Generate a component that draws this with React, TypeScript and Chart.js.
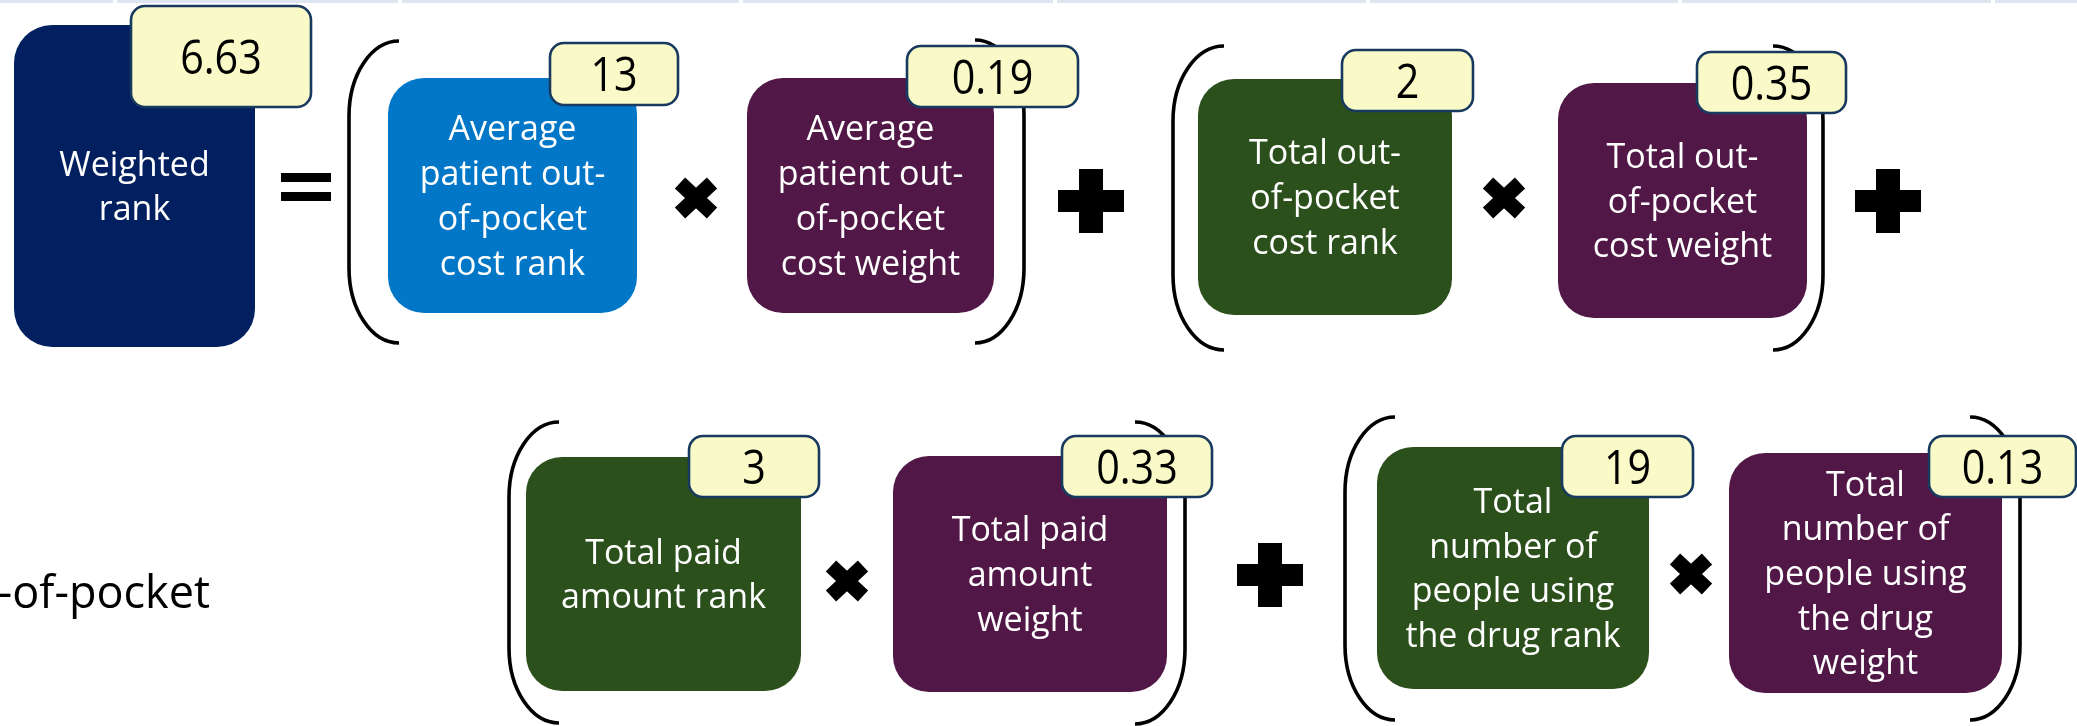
import React, { useEffect, useRef } from "react";
import { Chart, registerables } from "chart.js";

Chart.register(...registerables);

// ---------- DATA ----------
const resultLabel: string[] = ["Weighted", "rank"];
const weightedRank = 6.63;

const factorLabels: string[][] = [
  ["Average", "patient out-", "of-pocket", "cost rank"],
  ["Average", "patient out-", "of-pocket", "cost weight"],
  ["Total out-", "of-pocket", "cost rank"],
  ["Total out-", "of-pocket", "cost weight"],
  ["Total paid", "amount rank"],
  ["Total paid", "amount", "weight"],
  ["Total", "number of", "people using", "the drug rank"],
  ["Total", "number of", "people using", "the drug", "weight"],
];
const factorValues: number[] = [13, 0.19, 2, 0.35, 3, 0.33, 19, 0.13];
const factorKinds: string[] = ["avgRank", "weight", "rank", "weight", "rank", "weight", "rank", "weight"];
const operators: string[] = ["=", "x", "+", "x", "+", "x", "+", "x"];
const trailingText = "out-of-pocket";

// ---------- LAYOUT (diagram units = page px) ----------
const W = 2077;
const H = 726;
const RESULT_BOX = [14, 25, 255, 347];
const RESULT_BADGE = [131, 6, 311, 107];
const BOXES = [
  [388, 78, 637, 313],
  [747, 78, 994, 313],
  [1198, 79, 1452, 315],
  [1558, 83, 1807, 318],
  [526, 457, 801, 691],
  [893, 456, 1167, 692],
  [1377, 447, 1649, 689],
  [1729, 453, 2002, 693],
];
const BADGES = [
  [550, 43, 678, 105],
  [907, 46, 1078, 107],
  [1342, 50, 1473, 111],
  [1697, 52, 1846, 113],
  [689, 436, 819, 497],
  [1062, 436, 1212, 497],
  [1562, 436, 1693, 497],
  [1929, 436, 2076, 497],
];
// [xOuter(line), xEnd, top, bottom, side]
const PARENS = [
  [349, 399, 41, 343, "L"],
  [1024, 975, 40, 343, "R"],
  [1173, 1224, 46, 350, "L"],
  [1823, 1773, 46, 350, "R"],
  [509, 559, 422, 723, "L"],
  [1185, 1135, 422, 724, "R"],
  [1345, 1395, 417, 720, "L"],
  [2020, 1970, 417, 720, "R"],
];
const OP_POS = [
  [306, 187],
  [696, 198],
  [1091, 201],
  [1504, 198],
  [1888, 201],
  [847, 581],
  [1270, 575],
  [1691, 574],
];
const TRAIL_POS = [210, 608];
const STRIP_GAPS = [115, 400, 741, 1055, 1368, 1680, 1993];

const COLORS: Record<string, string> = {
  result: "#022060",
  avgRank: "#0277C8",
  rank: "#2B501B",
  weight: "#511847",
};

const BOX_FONT = '34px "Open Sans"';
const NUM_FONT = '48px "Open Sans"';
const LINE_H = 44.7;

function fmt(v: number, kind: string) {
  return kind === "weight" ? v.toFixed(2) : String(v);
}

const formulaPlugin = {
  id: "formulaDiagram",
  beforeDraw(chart: any) {
    const ctx = chart.ctx;
    ctx.save();
    ctx.fillStyle = "#ffffff";
    ctx.fillRect(0, 0, chart.width, chart.height);
    ctx.restore();
  },
  afterDraw(chart: any) {
    const ctx: CanvasRenderingContext2D = chart.ctx;
    const xs = chart.scales.x;
    const ys = chart.scales.y;
    const px = (v: number) => xs.getPixelForValue(v);
    const py = (v: number) => ys.getPixelForValue(v);
    ctx.save();

    // top strip
    ctx.fillStyle = "#DEE6F1";
    ctx.fillRect(px(0), py(0), px(W) - px(0), py(3) - py(0));
    ctx.fillStyle = "#ffffff";
    STRIP_GAPS.forEach((g) => ctx.fillRect(px(g - 2), py(0), px(4) - px(0), py(3) - py(0)));

    // parentheses
    ctx.strokeStyle = "#000000";
    ctx.lineWidth = 3.6;
    const RY = 75;
    PARENS.forEach((p) => {
      const [xo, xe, t, b, side] = p as [number, number, number, number, string];
      const rx = Math.abs(px(xe) - px(xo));
      const ry = py(t + RY) - py(t);
      ctx.beginPath();
      if (side === "L") {
        ctx.ellipse(px(xe), py(t) + ry, rx, ry, 0, -Math.PI / 2, Math.PI, true);
        ctx.lineTo(px(xo), py(b) - ry);
        ctx.ellipse(px(xe), py(b) - ry, rx, ry, 0, Math.PI, Math.PI / 2, true);
      } else {
        ctx.ellipse(px(xe), py(t) + ry, rx, ry, 0, -Math.PI / 2, 0, false);
        ctx.lineTo(px(xo), py(b) - ry);
        ctx.ellipse(px(xe), py(b) - ry, rx, ry, 0, 0, Math.PI / 2, false);
      }
      ctx.stroke();
    });

    const drawBox = (r: number[], color: string, lines: string[], radius: number) => {
      ctx.fillStyle = color;
      ctx.beginPath();
      (ctx as any).roundRect(px(r[0]), py(r[1]), px(r[2]) - px(r[0]), py(r[3]) - py(r[1]), radius);
      ctx.fill();
      ctx.fillStyle = "#ffffff";
      ctx.font = BOX_FONT;
      ctx.textAlign = "center";
      ctx.textBaseline = "alphabetic";
      const cx = (px(r[0]) + px(r[2])) / 2;
      const cy = (py(r[1]) + py(r[3])) / 2;
      const n = lines.length;
      lines.forEach((ln, i) => {
        ctx.fillText(ln, cx, cy + (i - (n - 1) / 2) * LINE_H + 12);
      });
    };

    const drawBadge = (r: number[], text: string) => {
      ctx.fillStyle = "#FAF9C8";
      ctx.strokeStyle = "#173A5E";
      ctx.lineWidth = 2.6;
      ctx.beginPath();
      (ctx as any).roundRect(px(r[0]), py(r[1]), px(r[2]) - px(r[0]), py(r[3]) - py(r[1]), 14);
      ctx.fill();
      ctx.stroke();
      const cx = (px(r[0]) + px(r[2])) / 2;
      const cy = (py(r[1]) + py(r[3])) / 2;
      ctx.save();
      ctx.translate(cx, cy + 17);
      ctx.scale(0.86, 1);
      ctx.fillStyle = "#000000";
      ctx.font = NUM_FONT;
      ctx.textAlign = "center";
      ctx.textBaseline = "alphabetic";
      ctx.fillText(text, 0, 0);
      ctx.restore();
    };

    drawBox(RESULT_BOX, COLORS.result, resultLabel, 38);
    factorLabels.forEach((lines, i) => drawBox(BOXES[i], COLORS[factorKinds[i]], lines, 36));
    drawBadge(RESULT_BADGE, weightedRank.toFixed(2));
    factorValues.forEach((v, i) => drawBadge(BADGES[i], fmt(v, factorKinds[i])));

    // operators
    ctx.fillStyle = "#000000";
    ctx.strokeStyle = "#000000";
    operators.forEach((op, i) => {
      const [ox, oy] = OP_POS[i];
      const cx = px(ox);
      const cy = py(oy);
      if (op === "=") {
        ctx.fillRect(cx - 25, cy - 14, 50, 9);
        ctx.fillRect(cx - 25, cy + 5, 50, 9);
      } else if (op === "+") {
        ctx.fillRect(cx - 12, cy - 32, 24, 64);
        ctx.fillRect(cx - 33, cy - 11, 66, 22);
      } else {
        ctx.lineWidth = 15;
        ctx.lineCap = "butt";
        ctx.beginPath();
        ctx.moveTo(cx - 16, cy - 15);
        ctx.lineTo(cx + 16, cy + 15);
        ctx.moveTo(cx + 16, cy - 15);
        ctx.lineTo(cx - 16, cy + 15);
        ctx.stroke();
      }
    });

    // trailing cut-off text
    ctx.fillStyle = "#000000";
    ctx.font = '45px "Open Sans"';
    ctx.textAlign = "right";
    ctx.textBaseline = "alphabetic";
    ctx.fillText(trailingText, px(TRAIL_POS[0]), py(TRAIL_POS[1]));

    ctx.restore();
  },
};

export default function App() {
  const ref = useRef<HTMLCanvasElement | null>(null);
  useEffect(() => {
    document.body.style.margin = "0";
    document.body.style.overflow = "hidden";
    const canvas = ref.current!;
    const chart = new Chart(canvas, {
      type: "scatter",
      data: { datasets: [{ data: [], pointRadius: 0 }] },
      options: {
        animation: false,
        responsive: false,
        devicePixelRatio: 1,
        layout: { padding: 0 },
        plugins: { legend: { display: false }, tooltip: { enabled: false } },
        scales: {
          x: { type: "linear", min: 0, max: W, display: false },
          y: { type: "linear", min: 0, max: H, reverse: true, display: false },
        },
      },
      plugins: [formulaPlugin],
    });
    return () => chart.destroy();
  }, []);
  return (
    <div style={{ width: W, height: H }}>
      <canvas ref={ref} width={W} height={H} style={{ display: "block", width: W, height: H }} />
    </div>
  );
}
